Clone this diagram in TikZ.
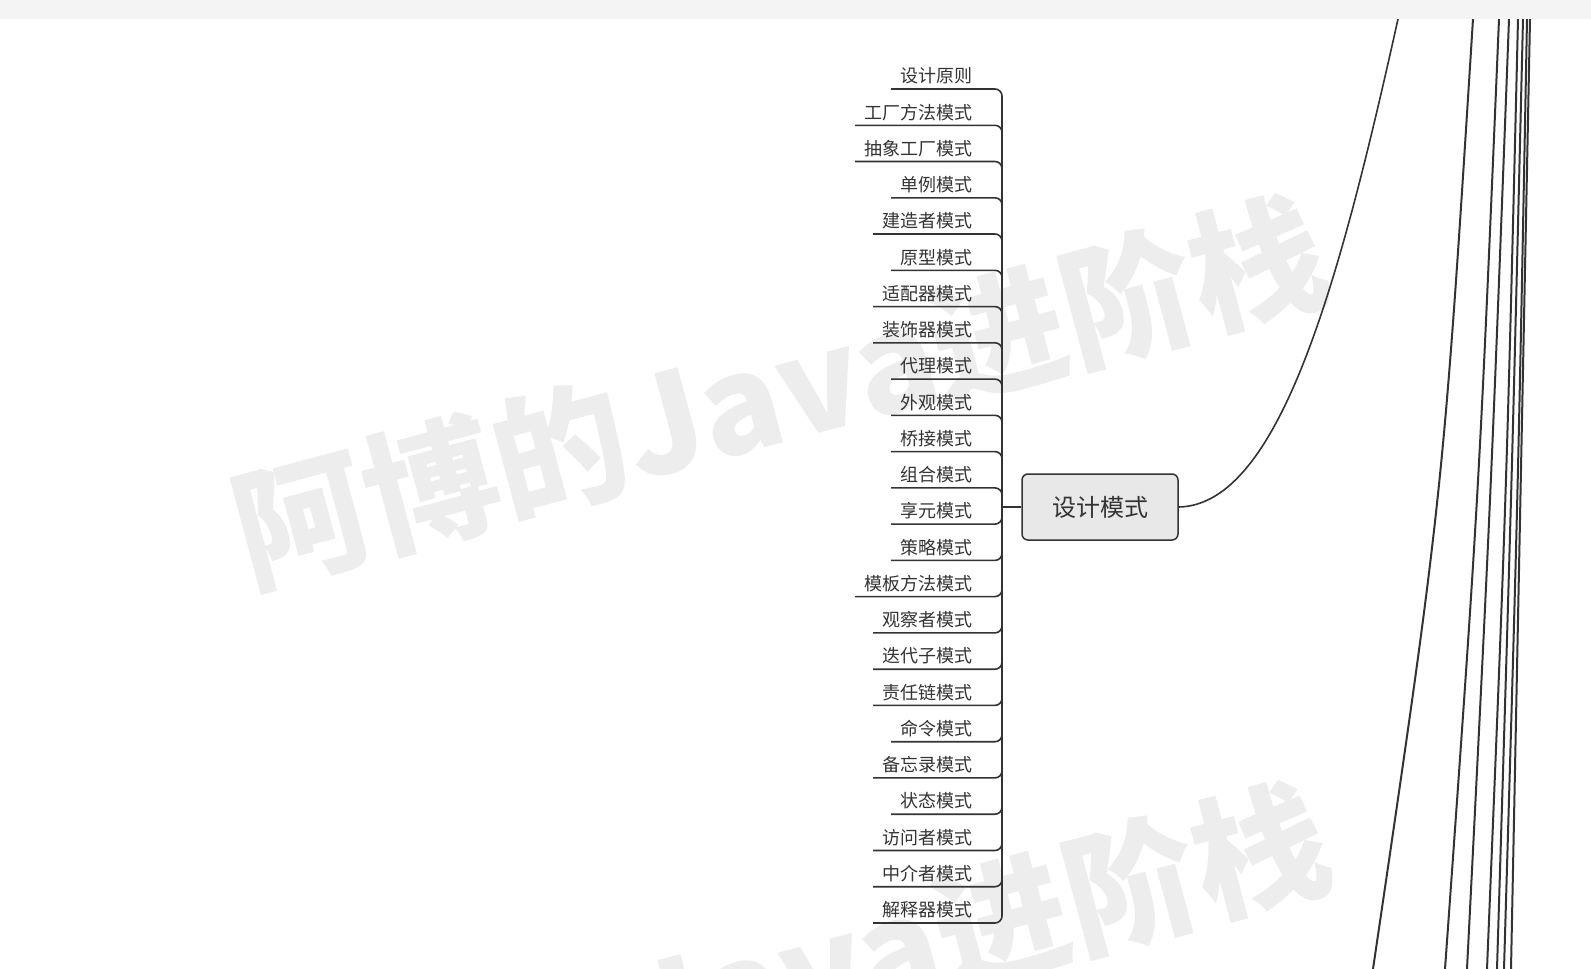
\documentclass[tikz,border=0pt]{standalone}
\usepackage{fontspec}
\setmainfont{Noto Sans CJK SC}
\usepackage{xcolor}
\usetikzlibrary{positioning}
\definecolor{linegray}{HTML}{333333}
\definecolor{boxgray}{HTML}{E8E8E8}
\definecolor{bandgray}{HTML}{F4F4F4}
\definecolor{markgray}{HTML}{EDEDED}
\tikzstyle{central} = [rectangle, rounded corners=3pt, minimum width=78pt, minimum height=33pt, text centered, draw=linegray, line width=0.75pt, fill=boxgray, text=linegray, font=\fontsize{12}{14}\selectfont]
\tikzstyle{leaf} = [anchor=south east, inner xsep=4.5pt, inner ysep=2.2pt, text=linegray, font=\fontsize{9}{10}\selectfont]
\tikzstyle{branch} = [draw=linegray, line width=0.8pt, rounded corners=3.5pt]
\tikzstyle{farline} = [draw=linegray, line width=1pt]
\tikzstyle{watermark} = [text=markgray, font=\bfseries\fontsize{67}{67}\selectfont, rotate=15]

\begin{document}
\begin{tikzpicture}[x=0.5pt, y=-0.5pt]
        \useasboundingbox (0,0) rectangle (1591,969);

        % Watermarks
        \begin{scope}
            \clip (0,0) rectangle (1591,969);
            \node (mark1) [watermark] at (779,391) {阿博的Java进阶栈};
            \node (mark2) [watermark] at (782,978) {阿博的Java进阶栈};
        \end{scope}

        % Nodes
        \node (topic) [central] at (1100,507) {设计模式};
        \coordinate (fork) at (1002,507);
        \node (p0) [leaf] at (982,89.0) {设计原则};
        \node (p1) [leaf] at (982,125.3) {工厂方法模式};
        \node (p2) [leaf] at (982,161.5) {抽象工厂模式};
        \node (p3) [leaf] at (982,197.8) {单例模式};
        \node (p4) [leaf] at (982,234.0) {建造者模式};
        \node (p5) [leaf] at (982,270.3) {原型模式};
        \node (p6) [leaf] at (982,306.6) {适配器模式};
        \node (p7) [leaf] at (982,342.8) {装饰器模式};
        \node (p8) [leaf] at (982,379.1) {代理模式};
        \node (p9) [leaf] at (982,415.3) {外观模式};
        \node (p10) [leaf] at (982,451.6) {桥接模式};
        \node (p11) [leaf] at (982,487.9) {组合模式};
        \node (p12) [leaf] at (982,524.1) {享元模式};
        \node (p13) [leaf] at (982,560.4) {策略模式};
        \node (p14) [leaf] at (982,596.6) {模板方法模式};
        \node (p15) [leaf] at (982,632.9) {观察者模式};
        \node (p16) [leaf] at (982,669.2) {迭代子模式};
        \node (p17) [leaf] at (982,705.4) {责任链模式};
        \node (p18) [leaf] at (982,741.7) {命令模式};
        \node (p19) [leaf] at (982,777.9) {备忘录模式};
        \node (p20) [leaf] at (982,814.2) {状态模式};
        \node (p21) [leaf] at (982,850.5) {访问者模式};
        \node (p22) [leaf] at (982,886.7) {中介者模式};
        \node (p23) [leaf] at (982,923.0) {解释器模式};

        % Branches
        \draw [branch] (topic.west) -- (fork);
        \draw [branch] (fork) |- (p0.south west);
        \draw [branch] (fork) |- (p1.south west);
        \draw [branch] (fork) |- (p2.south west);
        \draw [branch] (fork) |- (p3.south west);
        \draw [branch] (fork) |- (p4.south west);
        \draw [branch] (fork) |- (p5.south west);
        \draw [branch] (fork) |- (p6.south west);
        \draw [branch] (fork) |- (p7.south west);
        \draw [branch] (fork) |- (p8.south west);
        \draw [branch] (fork) |- (p9.south west);
        \draw [branch] (fork) |- (p10.south west);
        \draw [branch] (fork) |- (p11.south west);
        \draw [branch] (fork) |- (p12.south west);
        \draw [branch] (fork) |- (p13.south west);
        \draw [branch] (fork) |- (p14.south west);
        \draw [branch] (fork) |- (p15.south west);
        \draw [branch] (fork) |- (p16.south west);
        \draw [branch] (fork) |- (p17.south west);
        \draw [branch] (fork) |- (p18.south west);
        \draw [branch] (fork) |- (p19.south west);
        \draw [branch] (fork) |- (p20.south west);
        \draw [branch] (fork) |- (p21.south west);
        \draw [branch] (fork) |- (p22.south west);
        \draw [branch] (fork) |- (p23.south west);

        % Far lines on the right
        \coordinate (up0) at (1398,19);
        \draw [farline, line width=0.8pt] (topic.east) .. controls (1280,505) and (1340,280) .. (up0);
        \draw [farline] (1473,19) .. controls (1443,494) .. (1373,969);
        \draw [farline] (1499,19) .. controls (1479,494) .. (1445,969);
        \draw [farline] (1509,19) .. controls (1491,494) .. (1467,969);
        \draw [farline] (1518,19) .. controls (1506.5,494) .. (1487,969);
        \draw [farline] (1523,19) .. controls (1511.5,494) .. (1497,969);
        \draw [farline] (1527,19) .. controls (1518,494) .. (1504,969);
        \draw [farline] (1530,19) .. controls (1521,494) .. (1511,969);

        % Top band
        \fill [bandgray] (0,0) rectangle (1591,18.5);
    \end{tikzpicture}
\end{document}
